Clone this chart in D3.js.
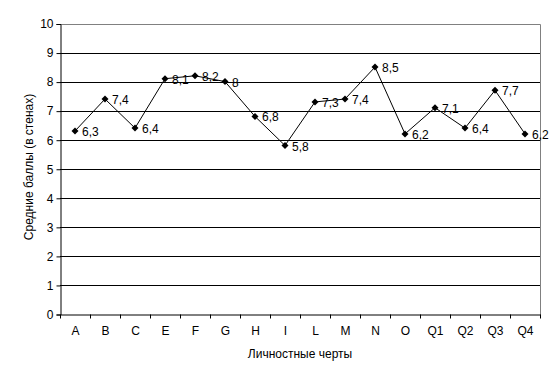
<!DOCTYPE html>
<html><head><meta charset="utf-8">
<script src="https://cdn.jsdelivr.net/npm/d3@7"></script>
<style>body{margin:0;background:#fff}svg text{font-family:"Liberation Sans",Arial,sans-serif;}</style>
</head><body><svg id="c" width="554" height="378"></svg>
<script>
const categories=["A","B","C","E","F","G","H","I","L","M","N","O","Q1","Q2","Q3","Q4"];
const values=[6.3,7.4,6.4,8.1,8.2,8,6.8,5.8,7.3,7.4,8.5,6.2,7.1,6.4,7.7,6.2];
const labels=["6,3","7,4","6,4","8,1","8,2","8","6,8","5,8","7,3","7,4","8,5","6,2","7,1","6,4","7,7","6,2"];
const yTicks=[0,1,2,3,4,5,6,7,8,9,10];
const xTitle="Личностные черты", yTitle="Средние баллы (в стенах)";

const svg=d3.select("#c");
const L=60,R=540,T=23.5,B=314;
const x=d3.scaleBand().domain(categories).range([L,R]);
const y=d3.scaleLinear().domain([0,10]).range([B,T]);

// gridlines
svg.append("g").selectAll("line").data(yTicks.filter(d=>d>0&&d<10)).join("line")
 .attr("x1",L).attr("x2",R).attr("y1",d=>Math.round(y(d))+0.5).attr("y2",d=>Math.round(y(d))+0.5)
 .attr("stroke","#000").attr("stroke-width",1);
// frame top/right grey
svg.append("line").attr("x1",L).attr("x2",R+0.5).attr("y1",Math.round(T)+0.5).attr("y2",Math.round(T)+0.5).attr("stroke","#808080");
svg.append("line").attr("x1",R+0.5).attr("x2",R+0.5).attr("y1",Math.round(T)+0.5).attr("y2",B+0.5).attr("stroke","#808080");

// y axis
const ya=svg.append("g").attr("transform",`translate(${L+0.5},0.5)`)
 .call(d3.axisLeft(y).tickValues(yTicks).tickSize(4).tickPadding(3).tickFormat(d3.format("d")));
ya.select(".domain").attr("stroke","#000");
ya.selectAll("text").attr("font-size",12).attr("fill","#000").attr("font-family","Liberation Sans, Arial, sans-serif");
// x axis
const xa=svg.append("g").attr("transform",`translate(0.5,${B+0.5})`)
 .call(d3.axisBottom(x).tickSize(0).tickPadding(12));
xa.select(".domain").attr("stroke","#000");
xa.selectAll("text").attr("font-size",12).attr("fill","#000").attr("font-family","Liberation Sans, Arial, sans-serif");
// x boundary ticks
xa.append("g").selectAll("line").data(d3.range(categories.length+1)).join("line")
 .attr("x1",i=>Math.round(L+i*x.bandwidth())).attr("x2",i=>Math.round(L+i*x.bandwidth()))
 .attr("y1",0).attr("y2",4).attr("stroke","#000");

const cx=(d,i)=>x(categories[i])+x.bandwidth()/2;
// line
svg.append("path").datum(values)
 .attr("d",d3.line().x((d,i)=>cx(d,i)).y(d=>y(d)))
 .attr("fill","none").attr("stroke","#000").attr("stroke-width",1);
// markers
svg.append("g").selectAll("path").data(values).join("path")
 .attr("transform",(d,i)=>`translate(${cx(d,i)},${y(d)})`)
 .attr("d","M0,-3.5L3.5,0L0,3.5L-3.5,0Z").attr("fill","#000");
// labels
svg.append("g").selectAll("text").data(values).join("text")
 .attr("x",(d,i)=>cx(d,i)+7).attr("y",d=>y(d)+5)
 .attr("font-size",12).attr("fill","#000").text((d,i)=>labels[i]);

// titles
svg.append("text").attr("x",(L+R)/2).attr("y",358).attr("text-anchor","middle").attr("font-size",12).text(xTitle);
svg.append("text").attr("transform",`translate(33,167) rotate(-90)`).attr("text-anchor","middle").attr("font-size",12).text(yTitle);
</script></body></html>
